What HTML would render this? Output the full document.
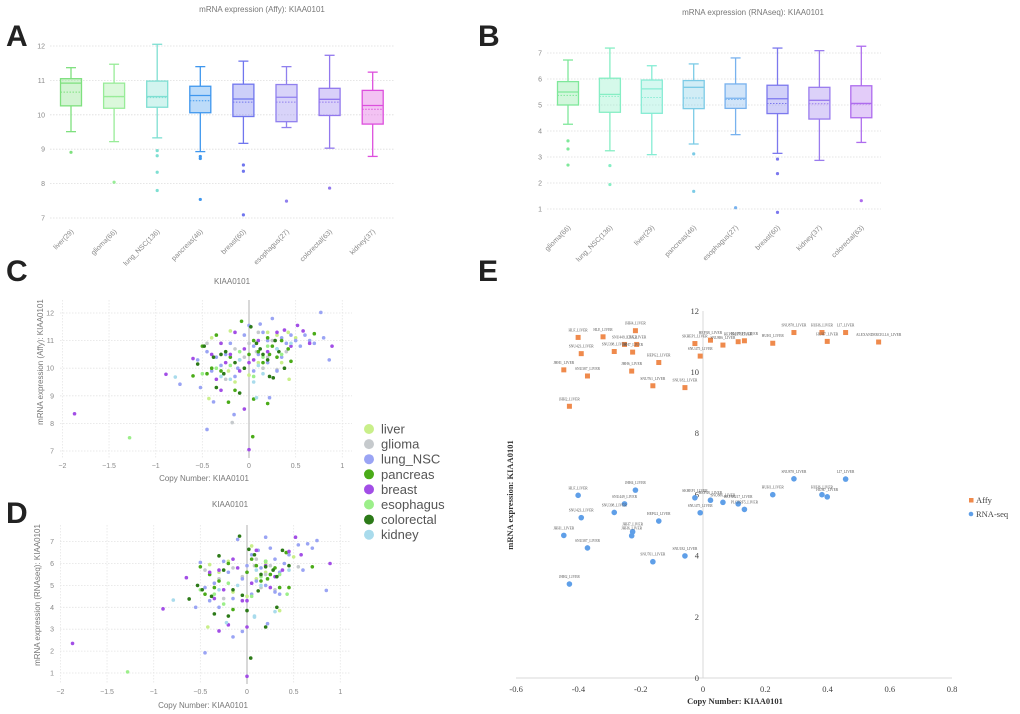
<!DOCTYPE html>
<html><head><meta charset="utf-8">
<style>
html,body{margin:0;padding:0;background:#fff;}
svg{display:block;font-family:"Liberation Sans",sans-serif;}
.tk{font-size:7px;fill:#888;}
.ttl{font-size:8px;fill:#777;}
.let{font-size:30px;font-weight:bold;fill:#222;}
.ser{font-family:"Liberation Serif",serif;}
</style></head>
<body>
<svg id="fig" width="1020" height="714" viewBox="0 0 1020 714" xmlns="http://www.w3.org/2000/svg">
<text class="let" x="6" y="46">A</text>
<text class="let" x="478" y="46">B</text>
<text class="let" x="6" y="281">C</text>
<text class="let" x="6" y="523">D</text>
<text class="let" x="478" y="281">E</text>
<g id="pA"></g>
<g id="pB"></g>
<g id="pC"></g>
<g id="pD"></g>
<g id="pE"></g>
<g id="legCD"></g>
</svg>
<script>
// ---------- Panel A data ----------
const aCats = ["liver(29)","glioma(66)","lung_NSC(136)","pancreas(46)","breast(60)","esophagus(27)","colorectal(63)","kidney(37)"];
const aLow = [9.51,9.22,9.33,8.93,9.17,9.63,9.03,8.79];
const aQ1 = [10.26,10.19,10.22,10.06,9.95,9.80,9.98,9.73];
const aMed = [10.92,10.53,10.53,10.56,10.46,10.51,10.45,10.27];
const aMean = [10.66,10.53,10.50,10.41,10.37,10.37,10.37,10.16];
const aQ3 = [11.05,10.92,10.98,10.83,10.89,10.88,10.77,10.71];
const aHigh = [11.37,11.47,12.05,11.40,11.56,11.40,11.73,11.24];
const aOut = [[8.91],[8.04],[8.96,8.81,8.33,7.80],[8.79,8.73,7.54],[8.54,8.36,7.09],[7.49],[7.87],[]];
const aTicks = [7,8,9,10,11,12];
const aColors = ["#7ee07e","#98ec98","#7edfd2","#3f97ee","#7076ee","#9080ee","#9278ee","#dd4fdd"];
// ---------- Panel B data ----------
const bCats = ["glioma(66)","lung_NSC(136)","liver(29)","pancreas(46)","esophagus(27)","breast(60)","kidney(37)","colorectal(63)"];
const bLow = [4.26,3.24,3.09,3.50,3.86,3.14,2.87,3.56];
const bQ1 = [5.00,4.72,4.68,4.86,4.87,4.67,4.46,4.51];
const bMed = [5.50,5.41,5.62,5.68,5.26,5.24,5.18,5.06];
const bMean = [5.37,5.33,5.29,5.27,5.21,5.06,5.05,5.04];
const bQ3 = [5.90,6.03,5.96,5.94,5.81,5.76,5.68,5.74];
const bHigh = [6.73,7.19,6.51,6.58,6.81,7.19,7.09,7.26];
const bOut = [[3.62,3.31,2.69],[2.67,1.94],[],[3.12,1.68],[1.05],[2.92,2.36,0.87],[],[1.32]];
const bTicks = [1,2,3,4,5,6,7];
const bColors = ["#7fe89a","#86eec4","#86ecd4","#7ccbe6","#78b2ee","#7c78ee","#9a7cee","#ae6cee"];
// ---------- Panel C / D data ----------
const cdCats = ["liver","glioma","lung_NSC","pancreas","breast","esophagus","colorectal","kidney"];
const cdColors = ["#c9ef8a","#c6cacd","#9aa4f4","#4aab18","#a24ee6","#9cef8a","#2c7a18","#a9dbec"];
const cPts = [
 [[-0.4,11.1],[-0.2,11.35],[0.2,11.3],[0.3,11.2],[0.42,11.3],[0.5,11.1],[-0.15,9.5],[0.0,9.75],[-0.3,10.9],[0.1,10.2],[-0.22,9.9],[0.35,10.2],[-0.43,8.9],[0.43,9.6]],
 [[-0.45,10.9],[-0.3,10.5],[-0.15,10.7],[0.0,10.9],[0.1,11.3],[0.2,10.4],[0.3,9.95],[-0.05,10.4],[0.25,11.0],[0.15,10.0],[-0.25,9.6],[0.4,10.6],[0.08,10.6],[-0.18,8.03]],
 [[-0.45,10.6],[-0.35,10.4],[-0.3,10.1],[-0.2,10.9],[-0.1,10.3],[0.0,11.55],[0.05,10.8],[0.1,10.5],[0.15,11.3],[0.2,11.0],[0.25,11.8],[0.3,10.7],[0.35,11.1],[0.4,10.9],[0.45,11.2],[0.5,11.0],[0.55,10.8],[0.6,11.2],[0.65,11.0],[0.7,10.9],[0.8,11.1],[-0.15,9.7],[0.05,9.9],[0.2,10.2],[-0.05,11.2],[-0.25,10.5],[0.12,11.6],[0.3,9.9],[-0.4,9.9],[-0.55,10.3],[0.35,10.4],[-0.12,10.0],[-0.45,7.78],[-0.16,8.32],[0.77,12.02],[0.86,10.3],[-0.74,9.42],[-0.52,9.3],[-0.38,8.78],[0.22,8.93]],
 [[-0.5,10.8],[-0.4,10.0],[-0.35,11.2],[-0.3,9.9],[-0.2,10.4],[-0.08,11.7],[0.0,10.5],[0.05,11.0],[0.1,10.6],[0.15,10.2],[0.2,11.1],[0.25,10.8],[0.3,10.4],[0.35,11.0],[0.42,10.7],[0.7,11.25],[-0.45,9.8],[0.22,10.5],[0.45,10.25],[-0.15,9.2],[0.04,7.52],[-0.6,9.72],[-0.22,8.77],[0.2,8.72],[0.05,8.88]],
 [[-0.6,10.35],[-0.4,10.5],[-0.3,10.9],[-0.15,11.3],[-0.05,10.7],[0.05,10.3],[0.1,11.0],[0.2,10.6],[0.3,11.3],[0.45,10.8],[0.52,11.55],[0.58,11.35],[0.65,10.9],[-0.25,10.2],[-0.1,9.9],[0.0,10.2],[-0.35,9.6],[0.38,11.38],[-0.2,10.5],[-1.87,8.35],[0.0,7.05],[0.89,10.8],[-0.89,9.78],[-0.05,8.52],[-0.3,9.2]],
 [[-0.5,9.8],[-0.2,10.1],[0.05,9.7],[0.2,10.8],[0.35,10.5],[-0.35,10.0],[0.15,10.4],[-0.1,10.6],[-1.28,7.48]],
 [[-0.55,10.15],[-0.48,10.8],[-0.38,10.4],[-0.35,9.3],[-0.25,10.6],[-0.15,10.2],[-0.05,10.0],[0.02,11.5],[0.08,10.9],[0.15,10.5],[0.2,10.3],[0.28,11.0],[0.32,10.6],[0.38,10.0],[0.22,9.7],[-0.3,10.5],[0.12,10.7],[0.26,9.65],[-0.27,9.8],[-0.1,9.1]],
 [[-0.3,9.7],[-0.1,10.3],[0.1,10.1],[0.3,10.7],[-0.2,9.6],[0.05,9.5],[0.15,9.8],[0.45,10.9],[-0.79,9.68],[0.08,8.93]]
];
const dPts = [
 [[-0.4,5.95],[-0.2,6.1],[0.05,6.8],[0.2,6.0],[0.42,6.5],[0.5,6.3],[-0.15,4.7],[0.0,4.5],[-0.3,5.6],[0.1,5.3],[0.35,3.85],[0.2,5.6],[-0.42,3.1]],
 [[-0.45,5.7],[-0.3,5.3],[-0.15,5.8],[0.0,5.6],[0.1,6.2],[0.2,5.5],[0.3,4.8],[-0.05,5.4],[0.25,5.9],[0.15,4.9],[-0.25,4.4],[0.55,5.85],[0.08,5.9]],
 [[-0.5,6.05],[-0.45,4.9],[-0.35,5.1],[-0.3,4.0],[-0.2,5.6],[-0.1,7.1],[0.0,5.9],[0.05,6.4],[0.1,5.2],[0.15,5.8],[0.2,7.2],[0.25,6.7],[0.3,6.2],[0.35,5.6],[0.4,6.0],[0.45,6.4],[0.55,6.85],[0.6,5.7],[0.65,6.9],[0.7,6.7],[-0.15,4.4],[0.05,4.6],[0.2,5.0],[-0.25,6.1],[0.3,4.7],[-0.4,4.3],[0.12,6.6],[-0.05,5.3],[0.35,4.6],[-0.55,4.0],[-0.45,1.92],[0.85,4.77],[0.75,7.05],[-0.15,2.65],[0.22,3.25],[-0.05,2.9]],
 [[-0.5,5.85],[-0.4,5.5],[-0.35,4.9],[-0.3,5.2],[-0.2,6.0],[0.0,5.6],[0.05,6.2],[0.1,5.9],[0.15,5.2],[0.2,6.1],[0.25,5.5],[0.3,5.8],[0.35,4.9],[0.42,6.5],[0.7,5.85],[-0.45,4.6],[0.22,5.3],[0.45,4.9],[-0.15,3.9]],
 [[-0.65,5.35],[-0.4,5.6],[-0.3,5.7],[-0.15,6.2],[-0.05,4.3],[0.05,5.1],[0.1,6.6],[0.2,5.9],[0.3,5.4],[0.45,6.55],[0.58,6.4],[-0.25,4.8],[-0.1,5.8],[0.0,4.3],[-0.35,4.4],[0.38,5.7],[-0.2,3.2],[0.25,4.9],[-1.87,2.35],[0.0,0.85],[-0.9,3.93],[0.89,6.0],[0.52,7.2],[-0.3,2.92],[0.0,3.1]],
 [[-0.5,4.8],[-0.2,5.1],[0.05,4.5],[0.2,6.1],[0.35,5.5],[-0.35,4.6],[0.15,5.4],[0.43,4.6],[-0.25,4.15],[-1.28,1.05]],
 [[-0.53,5.0],[-0.48,4.8],[-0.38,4.5],[-0.35,3.7],[-0.25,5.7],[-0.15,4.8],[-0.05,4.55],[0.02,6.65],[0.08,6.4],[0.15,5.5],[0.2,5.85],[0.28,5.7],[0.32,5.4],[0.38,6.6],[0.32,4.0],[-0.3,6.35],[0.12,4.75],[0.0,3.85],[-0.2,3.6],[0.45,5.9],[0.04,1.68],[-0.62,4.38],[-0.08,7.25],[0.2,3.1]],
 [[-0.3,4.8],[-0.1,5.0],[0.1,5.7],[0.3,3.8],[-0.22,3.3],[0.08,3.6],[0.15,5.0],[0.45,5.7],[-0.79,4.33],[0.08,3.55]]
];
const cdXTicks = [-2,-1.5,-1,-0.5,0,0.5,1];
const cYTicks = [7,8,9,10,11,12];
const dYTicks = [1,2,3,4,5,6,7];
// ---------- Panel E data ----------
const eNames = ["HLF_LIVER","HLE_LIVER","JHH4_LIVER","SNU449_LIVER","C3A_LIVER","SNU423_LIVER","SNU398_LIVER","JHH7_LIVER","HEPG2_LIVER","JHH1_LIVER","SNU387_LIVER","JHH6_LIVER","SNU761_LIVER","SNU182_LIVER","JHH2_LIVER","SKHEP1_LIVER","HEP3B_LIVER","SNU886_LIVER","SNU475_LIVER","HEP3B217_LIVER","PLCPRF5_LIVER","HUH1_LIVER","SNU878_LIVER","HUH6_LIVER","HUH7_LIVER","LI7_LIVER","ALEXANDERCELLS_LIVER"];
const eX = [-0.401,-0.321,-0.217,-0.252,-0.213,-0.391,-0.285,-0.226,-0.142,-0.447,-0.371,-0.229,-0.161,-0.058,-0.429,-0.026,0.024,0.064,-0.009,0.113,0.133,0.224,0.292,0.382,0.399,0.458,0.564];
const eAffy = [11.13,11.15,11.35,10.90,10.90,10.60,10.67,10.65,10.31,10.07,9.87,10.03,9.55,9.49,8.88,10.93,11.04,10.88,10.52,10.99,11.02,10.94,11.29,11.29,11.00,11.29,10.98];
const eRna = [5.97,null,6.14,5.69,null,5.24,5.41,4.78,5.13,4.66,4.25,4.65,3.80,3.99,3.07,5.89,5.81,5.74,5.40,5.69,5.51,5.99,6.51,5.99,5.92,6.50,null];
const eXTicks = [-0.6,-0.4,-0.2,0,0.2,0.4,0.6,0.8];
const eYTicks = [0,2,4,6,8,10,12];

const NS="http://www.w3.org/2000/svg";
function mk(parent,tag,attrs,text){const e=document.createElementNS(NS,tag);for(const k in attrs)e.setAttribute(k,attrs[k]);if(text!==undefined)e.textContent=text;parent.appendChild(e);return e;}

function drawBoxes(g,cats,lo,q1,med,mean,q3,hi,outs,ticks,colors,P){
  const y=v=>P.y0-(v-P.v0)*P.k, x=i=>P.x0+i*P.dx;
  ticks.forEach(t=>{
    const l=mk(g,'line',{x1:P.gx1,x2:P.gx2,y1:y(t),y2:y(t),stroke:'#ddd','stroke-width':0.8,'stroke-dasharray':'1.5,1.5'});
    
    
    const tx=mk(g,'text',{x:P.gx1-5,y:y(t)+2.5,'text-anchor':'end',class:'tk'},String(t));
    
    
  });
  cats.forEach((c,i)=>{
    const cx=x(i),col=colors[i],w=21,cw=5;
    const bg=mk(g,'g',{});
    
    
    mk(bg,'line',{x1:cx,x2:cx,y1:y(hi[i]),y2:y(q3[i]),stroke:col,'stroke-width':1.3});
    mk(bg,'line',{x1:cx,x2:cx,y1:y(q1[i]),y2:y(lo[i]),stroke:col,'stroke-width':1.3});
    mk(bg,'line',{x1:cx-cw,x2:cx+cw,y1:y(hi[i]),y2:y(hi[i]),stroke:col,'stroke-width':1.3});
    mk(bg,'line',{x1:cx-cw,x2:cx+cw,y1:y(lo[i]),y2:y(lo[i]),stroke:col,'stroke-width':1.3});
    mk(bg,'rect',{x:cx-w/2,y:y(q3[i]),width:w,height:y(q1[i])-y(q3[i]),fill:col,'fill-opacity':0.35,stroke:col,'stroke-width':1.3});
    mk(bg,'line',{x1:cx-w/2,x2:cx+w/2,y1:y(med[i]),y2:y(med[i]),stroke:col,'stroke-width':1.3});
    mk(bg,'line',{x1:cx-w/2,x2:cx+w/2,y1:y(mean[i]),y2:y(mean[i]),stroke:col,'stroke-width':1,'stroke-dasharray':'1.5,1.5'});
    outs[i].forEach(o=>{
      const p=mk(bg,'circle',{cx:cx,cy:y(o),r:1.6,fill:col});
      
      
    });
    const lb=mk(g,'text',{x:cx+3,y:P.ly,'text-anchor':'end',class:'tk',transform:`rotate(-45 ${cx+3} ${P.ly})`},c);
    
    
  });
}
const gA=document.getElementById('pA');
drawBoxes(gA,aCats,aLow,aQ1,aMed,aMean,aQ3,aHigh,aOut,aTicks,aColors,{y0:218,v0:7,k:34.4,x0:71,dx:43.1,gx1:50,gx2:394,ly:232});
const tA=mk(gA,'text',{x:262,y:12,'text-anchor':'middle',class:'ttl'},'mRNA expression (Affy): KIAA0101');


const xA=mk(gA,'text',{x:232,y:284,'text-anchor':'middle',class:'ttl'},'KIAA0101');


const gB=document.getElementById('pB');
drawBoxes(gB,bCats,bLow,bQ1,bMed,bMean,bQ3,bHigh,bOut,bTicks,bColors,{y0:209,v0:1,k:26,x0:568,dx:41.9,gx1:547,gx2:881,ly:228});
const tB=mk(gB,'text',{x:753,y:15,'text-anchor':'middle',class:'ttl'},'mRNA expression (RNAseq): KIAA0101');



function drawScatter(g,pts,yTicks,P){
  const x=v=>P.x0+v*P.kx, y=v=>P.y0-(v-P.v0)*P.ky;
  yTicks.forEach(t=>{
    const l=mk(g,'line',{x1:P.gx1,x2:P.gx2,y1:y(t),y2:y(t),stroke:'#e3e3e3','stroke-width':0.8,'stroke-dasharray':'1.5,1.5'});
    
    
    const tx=mk(g,'text',{x:P.gx1-6,y:y(t)+2.5,'text-anchor':'end',class:'tk'},String(t));
    
    
  });
  cdXTicks.forEach(t=>{
    if(t!==0){const l=mk(g,'line',{x1:x(t),x2:x(t),y1:P.gy1,y2:P.gy2,stroke:'#e6e6e6','stroke-width':0.8,'stroke-dasharray':'1.5,1.5'});
    
    }
    const tx=mk(g,'text',{x:x(t),y:P.gy2+10,'text-anchor':'middle',class:'tk'},t===0?'0':String(t).replace('-','\u2212'));
    
    
  });
  const z=mk(g,'line',{x1:x(0),x2:x(0),y1:P.gy1,y2:P.gy2,stroke:'#ccc','stroke-width':1.5});
  
  
  pts.forEach((arr,ci)=>arr.forEach(p=>{
    const c=mk(g,'circle',{cx:x(p[0]),cy:y(p[1]),r:1.8,fill:cdColors[ci]});
    
    
  }));
}
const gC=document.getElementById('pC');
drawScatter(gC,cPts,cYTicks,{x0:249,kx:93.3,y0:451,v0:7,ky:27.6,gx1:60,gx2:352,gy1:300,gy2:458});
const xC=mk(gC,'text',{x:204,y:481,'text-anchor':'middle',class:'ttl'},'Copy Number: KIAA0101');


const yC=mk(gC,'text',{x:0,y:0,'text-anchor':'middle',class:'ttl',transform:'translate(43,362) rotate(-90)'},'mRNA expression (Affy): KIAA0101');


const gD=document.getElementById('pD');
drawScatter(gD,dPts,dYTicks,{x0:247,kx:93.3,y0:673,v0:1,ky:21.9,gx1:60,gx2:350,gy1:525,gy2:684});
const tD=mk(gD,'text',{x:230,y:507,'text-anchor':'middle',class:'ttl'},'KIAA0101');


const xD=mk(gD,'text',{x:203,y:708,'text-anchor':'middle',class:'ttl'},'Copy Number: KIAA0101');


const yD=mk(gD,'text',{x:0,y:0,'text-anchor':'middle',class:'ttl',transform:'translate(40,595) rotate(-90)'},'mRNA expression (RNAseq): KIAA0101');


// legend C/D
const gL=document.getElementById('legCD');
cdCats.forEach((c,i)=>{
  const it=mk(gL,'g',{});
  
  
  mk(it,'circle',{cx:369,cy:429+i*15.1,r:5,fill:cdColors[i]});
  mk(it,'text',{x:381,y:433.5+i*15.1,'font-size':'13','fill':'#555'},c);
});
// Panel E
const gE=document.getElementById('pE');
const ex=v=>703+v*311.4, ey=v=>678-v*30.6;
const axX=mk(gE,'line',{x1:516,x2:952,y1:678,y2:678,stroke:'#d9d9d9','stroke-width':1});


const axY=mk(gE,'line',{x1:703,x2:703,y1:311,y2:678,stroke:'#d9d9d9','stroke-width':1});


eXTicks.forEach(t=>{
  const tx=mk(gE,'text',{x:ex(t),y:692,'text-anchor':'middle','font-size':'8.5',fill:'#444',class:'ser'},t===0?'0':String(t));
  
  
});
eYTicks.forEach(t=>{
  const tx=mk(gE,'text',{x:699,y:ey(t)+3,'text-anchor':'end','font-size':'8.5',fill:'#444',class:'ser'},String(t));
  
  
});
const xE=mk(gE,'text',{x:735,y:704,'text-anchor':'middle','font-size':'8.5','font-weight':'bold',fill:'#333',class:'ser'},'Copy Number: KIAA0101');


const yE=mk(gE,'text',{x:0,y:0,'text-anchor':'middle','font-size':'8.5','font-weight':'bold',fill:'#333',class:'ser',transform:'translate(513,495) rotate(-90)'},'mRNA expression: KIAA0101');


eX.forEach((xv,i)=>{
  const s=mk(gE,'rect',{x:ex(xv)-2.5,y:ey(eAffy[i])-2.5,width:5,height:5,fill:'#ef8a4c'});
  
  
  const l=mk(gE,'text',{x:ex(xv),y:ey(eAffy[i])-6,'text-anchor':'middle','font-size':'3.6',fill:'#555',class:'ser'},eNames[i]);
  
  
  if(eRna[i]!==null){
    const c=mk(gE,'circle',{cx:ex(xv),cy:ey(eRna[i]),r:2.8,fill:'#5f9fe8'});
    
    
    const l2=mk(gE,'text',{x:ex(xv),y:ey(eRna[i])-6,'text-anchor':'middle','font-size':'3.6',fill:'#555',class:'ser'},eNames[i]);
    
    
  }
});
const le1=mk(gE,'g',{});


mk(le1,'rect',{x:969,y:498,width:4.5,height:4.5,fill:'#ef8a4c'});
mk(le1,'text',{x:976,y:503,'font-size':'8.5',fill:'#444',class:'ser'},'Affy');
const le2=mk(gE,'g',{});


mk(le2,'circle',{cx:971,cy:514,r:2.3,fill:'#5f9fe8'});
mk(le2,'text',{x:976,y:517,'font-size':'8.5',fill:'#444',class:'ser'},'RNA-seq');
</script>
</body></html>
